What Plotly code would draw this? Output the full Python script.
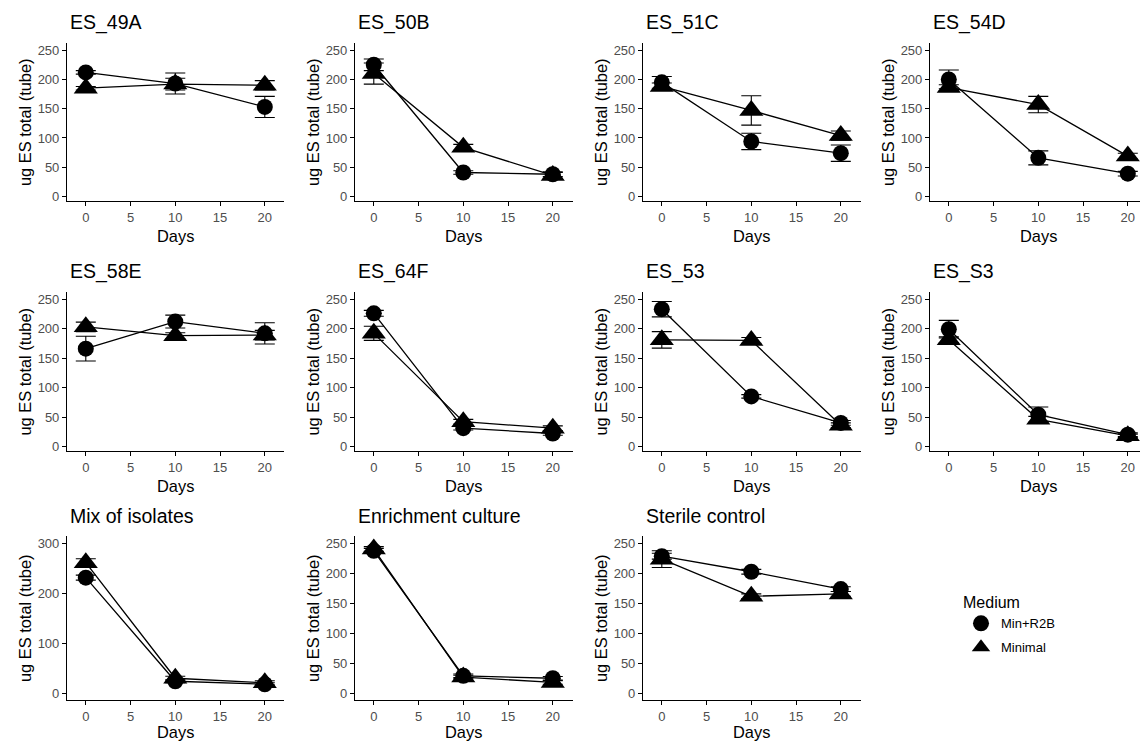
import plotly.graph_objects as go

# ---------------- data ----------------
days = [0, 10, 20]
panel_titles = ["ES_49A", "ES_50B", "ES_51C", "ES_54D",
                "ES_58E", "ES_64F", "ES_53", "ES_S3",
                "Mix of isolates", "Enrichment culture", "Sterile control"]
media = ["Min+R2B", "Minimal"]

r2b_mean = [[212, 193, 153], [225, 41, 38], [195, 94, 74], [200, 66, 39],
            [166, 212, 192], [226, 31, 22], [233, 85, 40], [199, 54, 20],
            [232, 24, 18], [238, 29, 25], [229, 203, 174]]
r2b_err = [[3, 18, 18], [10, 3, 4], [10, 14, 14], [16, 12, 4],
           [21, 11, 18], [5, 3, 3], [13, 3, 4], [15, 13, 3],
           [5, 3, 3], [4, 3, 3], [5, 4, 4]]
min_mean = [[185, 192, 190], [210, 84, 36], [188, 147, 104], [186, 157, 69],
            [203, 188, 189], [192, 42, 31], [181, 180, 36], [181, 46, 18],
            [262, 30, 21], [241, 27, 18], [224, 162, 166]]
min_err = [[3, 10, 8], [18, 5, 5], [6, 25, 8], [5, 14, 5],
           [8, 5, 8], [12, 4, 4], [14, 5, 4], [5, 5, 3],
           [8, 4, 4], [4, 3, 3], [14, 4, 4]]

x_ticks = [0, 5, 10, 15, 20]
y_ticks_250 = [0, 50, 100, 150, 200, 250]
y_ticks_300 = [0, 100, 200, 300]

# ---------------- layout geometry (px) ----------------
W, H = 1140, 745
col_left = [67, 355, 643, 930]
col_right = [284, 573, 861, 1140]
row_top = [43, 293, 538]
row_bot = [202, 453, 703]
PXU = 8.95  # px per day

FONT = "Liberation Sans, Arial, Helvetica, sans-serif"

fig = go.Figure()
layout = dict(
    width=W, height=H,
    margin=dict(l=0, r=0, t=0, b=0),
    paper_bgcolor="white", plot_bgcolor="white",
    font=dict(family=FONT, color="black"),
    showlegend=True,
)
annotations = []

for i, title in enumerate(panel_titles):
    r, c = divmod(i, 4)
    suffix = "" if i == 0 else str(i + 1)
    xa, ya = "xaxis" + suffix, "yaxis" + suffix
    xr, yr = "x" + suffix, "y" + suffix
    left, right = col_left[c], col_right[c]
    top, bot = row_top[r], row_bot[r]
    xmax = -2.1 + (right - left) / PXU
    if title == "Mix of isolates":
        yrange, yt = [-14, 316], y_ticks_300
    elif r == 2:
        yrange, yt = [-11.6, 263], y_ticks_250
    else:
        yrange, yt = [-8, 262.5], y_ticks_250

    axis_common = dict(
        showgrid=False, zeroline=False, showline=True, linecolor="black",
        linewidth=1.1, ticks="outside", ticklen=4, tickwidth=1.1,
        tickcolor="black", ticklabeloverflow="allow",
        tickfont=dict(family=FONT, size=13, color="#4d4d4d"),
    )
    layout[xa] = dict(axis_common, domain=[left / W, right / W],
                      range=[-2.1, xmax], tickvals=x_ticks, anchor=yr)
    layout[ya] = dict(axis_common, domain=[1 - bot / H, 1 - top / H],
                      range=yrange, tickvals=yt, anchor=xr)

    # series
    for name, mean, err, sym, size in [
        ("Min+R2B", r2b_mean[i], r2b_err[i], "circle", 16),
        ("Minimal", min_mean[i], min_err[i], "triangle-up", 21),
    ]:
        fig.add_trace(go.Scatter(
            x=days, y=mean, mode="lines+markers", xaxis=xr, yaxis=yr,
            name=name, showlegend=False,
            line=dict(color="black", width=1.3),
            marker=dict(symbol=sym, size=size, color="black"),
            error_y=dict(type="data", array=err, visible=True,
                         color="black", thickness=1.1, width=10),
            cliponaxis=False,
        ))

    # panel title
    annotations.append(dict(
        text=title, xref="paper", yref="paper",
        x=(left + 1) / W, y=1 - (top - 20) / H,
        xanchor="left", yanchor="middle", showarrow=False,
        font=dict(family=FONT, size=19.5, color="black"),
    ))
    # y-axis title
    annotations.append(dict(
        text="ug ES total (tube)", xref="paper", yref="paper",
        x=(left - 42) / W, y=1 - ((top + bot) / 2) / H,
        xanchor="center", yanchor="middle", textangle=-90, showarrow=False,
        font=dict(family=FONT, size=16.4, color="black"),
    ))
    # x-axis title
    annotations.append(dict(
        text="Days", xref="paper", yref="paper",
        x=(left + 12.1 * PXU) / W, y=1 - (bot + (32 if r == 2 else 35)) / H,
        xanchor="center", yanchor="middle", showarrow=False,
        font=dict(family=FONT, size=16.4, color="black"),
    ))

# legend-only traces
for name, sym, size in [("Min+R2B", "circle", 16), ("Minimal", "triangle-up", 20)]:
    fig.add_trace(go.Scatter(
        x=[None], y=[None], mode="markers", name=name, legendgroup=name,
        marker=dict(symbol=sym, size=size, color="black"),
        xaxis="x", yaxis="y", showlegend=True,
    ))

layout["annotations"] = annotations
layout["legend"] = dict(
    x=961 / W, y=1 - 590 / H, xanchor="left", yanchor="top",
    title=dict(text="Medium", font=dict(family=FONT, size=16, color="black")),
    font=dict(family=FONT, size=13, color="black"),
    bgcolor="rgba(0,0,0,0)", itemsizing="trace", tracegroupgap=4,
)
fig.update_layout(**layout)
fig.write_html(
    "out.html",
    config={"displayModeBar": False},
    post_script="document.body.style.margin='0';document.body.style.overflow='hidden';",
)
